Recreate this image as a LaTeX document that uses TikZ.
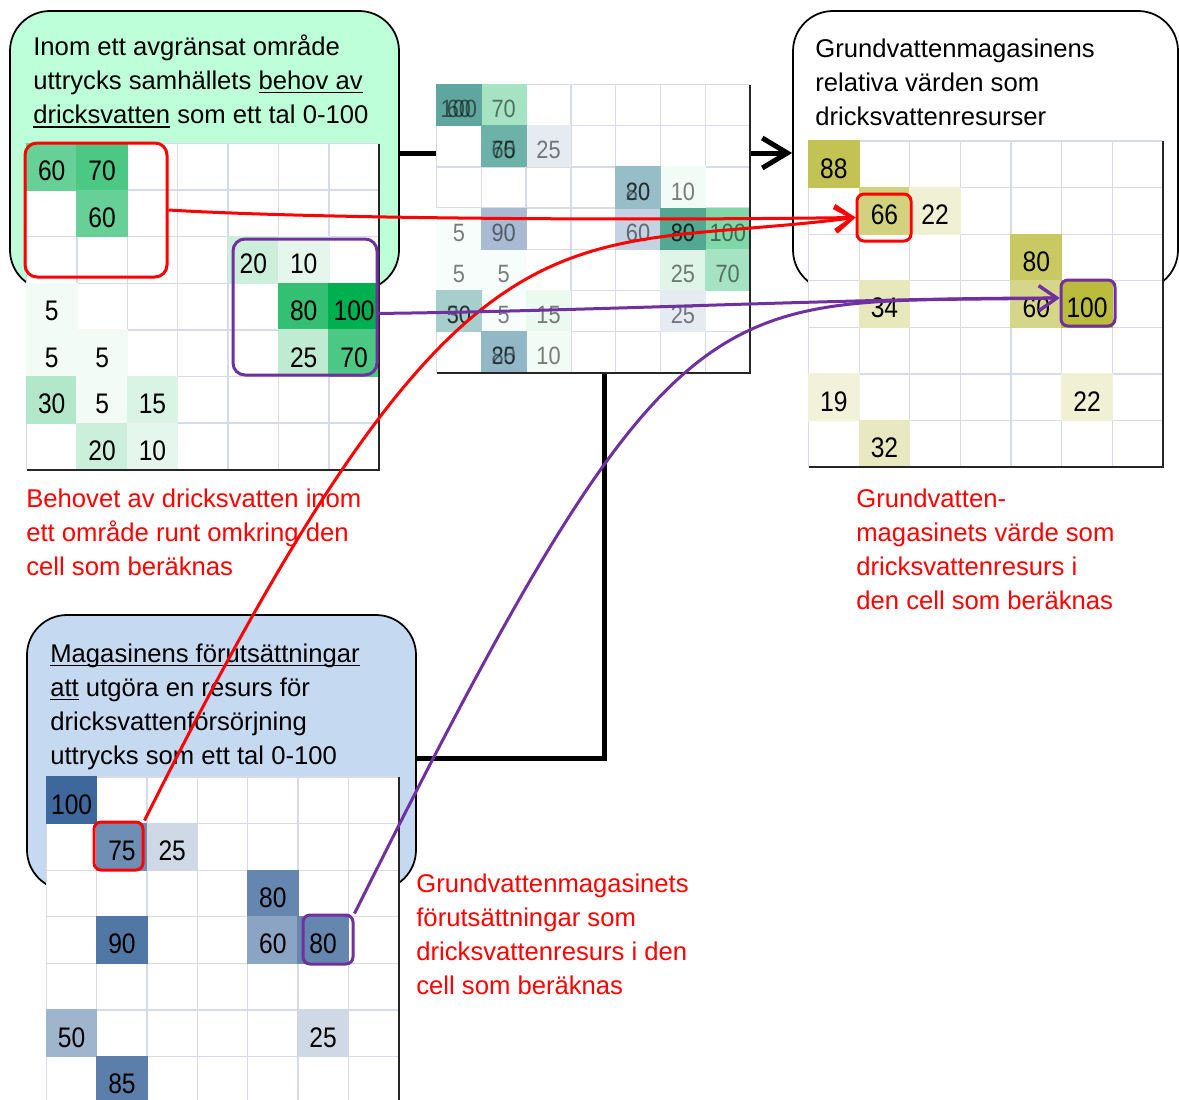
\documentclass[tikz,border=0pt]{standalone}
\usepackage{fontspec}
\setmainfont{Liberation Sans}
\usepackage{graphicx}
\usetikzlibrary{arrows.meta,fit}

\definecolor{gbase}{RGB}{0,176,80}
\definecolor{bbase}{RGB}{62,104,155}
\definecolor{obase}{RGB}{187,187,60}
\definecolor{gridc}{RGB}{214,218,234}
\definecolor{mint}{RGB}{188,255,217}
\definecolor{paleblue}{RGB}{197,217,241}
\definecolor{vio}{RGB}{112,48,160}
% blended cells of the combined grid
\definecolor{ovA}{RGB}{95,166,158}
\definecolor{ovB}{RGB}{108,178,168}
\definecolor{ovC}{RGB}{150,189,200}
\definecolor{ovD}{RGB}{82,168,144}
\definecolor{ovE}{RGB}{165,206,204}
\definecolor{ovF}{RGB}{146,184,200}

% underline drawn just below the baseline
\newsavebox\undlbox
\newcommand\undl[1]{\leavevmode\sbox\undlbox{#1}\rlap{\rule[-2.3pt]{\wd\undlbox}{0.85pt}}\usebox\undlbox}
\newcommand\cellval[1]{\scalebox{1}[1.15]{#1}}
\newcommand\boxtext{\fontsize{14.6}{19.5}\selectfont}

% white sheet with 7 columns: #1 column width, #2 row height, #3 rows
\newcommand\gridsheet[3]{%
  \fill[white] (0,0) rectangle ({7*#1},{#3*#2});
  \foreach \k in {0,...,7} \draw[gridline] ({\k*#1},0) -- ({\k*#1},{#3*#2});
  \foreach \k in {0,...,#3} \draw[gridline] (0,{\k*#2}) -- ({7*#1},{\k*#2});
}
\newcommand\gridborder[3]{%
  \draw[gridedge] ({7*#1},0) -- ({7*#1},{#3*#2}) -- (0,{#3*#2});
}

\tikzset{
  gridline/.style={draw=gridc, line width=0.025cm},
  gridedge/.style={draw=black!85, line width=0.04cm},
  cellnum/.style={anchor=base, inner sep=0pt, font=\fontsize{14}{14}\selectfont},
  midnum/.style={anchor=base, inner sep=0pt, font=\fontsize{12.4}{12.4}\selectfont, text opacity=0.5},
  panel/.style={draw=black, line width=0.035cm, rounded corners=0.8cm, inner sep=0pt},
  hlred/.style={draw=red, line width=0.06cm, inner sep=0pt},
  hlvio/.style={draw=vio, line width=0.06cm, inner sep=0pt},
  redlink/.style={draw=red, line width=0.06cm, -{Straight Barb[length=0.36cm,width=0.5cm]}},
  violink/.style={draw=vio, line width=0.06cm, -{Straight Barb[length=0.36cm,width=0.5cm]}},
  heavy/.style={draw=black, line width=0.1cm},
  paneltext/.style={anchor=base west, inner sep=0pt},
  redcaption/.style={anchor=base west, inner sep=0pt, text=red},
}

\begin{document}
\begin{tikzpicture}[x=0.02cm, y=-0.02cm]
\useasboundingbox (0,0) rectangle (1179,1099);

% panels
\node[panel, fill=mint, fit={(10,11) (399,290)}] (boxG) {};
\node[panel, fill=white, fit={(793,11) (1178,290)}] (boxR) {};
\node[panel, fill=paleblue, fit={(27,615) (416,890)}] (boxB) {};

% combined grid frame and the thick links to it
\node[inner sep=0pt, fit={(436.5,84.5) (750,373)}] (midgrid) {};
\coordinate (jL) at (0,153);
\coordinate (jB) at (604,758);
\draw[heavy] (boxG.east |- jL) -- (midgrid.west |- jL);
\draw[heavy, -{Straight Barb[length=0.5cm,width=0.6cm]}] (midgrid.east |- jL) -- (boxR.west |- jL);
\draw[heavy] (midgrid.south -| jB) -- (jB) -- (boxB.east |- jB);

% need grid (green)
\begin{scope}[shift={(26.5,143.5)}]
  \def\cw{50.4}\def\ch{46.6}
  \gridsheet{\cw}{\ch}{7}
  \foreach \r/\c/\v in {0/0/60,0/1/70,1/1/60,2/4/20,2/5/10,3/0/5,3/5/80,3/6/100,4/0/5,4/1/5,4/5/25,4/6/70,5/0/30,5/1/5,5/2/15,6/1/20,6/2/10} {
    \fill[gbase!\v!white] ({\c*\cw-0.6},{\r*\ch-0.6}) rectangle ({(\c+1)*\cw+0.6},{(\r+1)*\ch+0.6});
    \node[cellnum] (gL-\r-\c) at ({(\c+0.5)*\cw},{(\r+1)*\ch-9.5}) {\cellval{\v}};
  }
  \gridborder{\cw}{\ch}{7}
\end{scope}

% combined grid
\begin{scope}[shift={(436.5,84.5)}]
  \def\cw{44.8}\def\ch{41.2}
  \gridsheet{\cw}{\ch}{7}
  \foreach \r/\c/\col in {0/1/gbase!35!white,2/5/gbase!5!white,3/0/gbase!3!white,3/6/gbase!50!white,4/0/gbase!3!white,4/1/gbase!3!white,4/5/gbase!13!white,4/6/gbase!35!white,5/1/gbase!3!white,5/2/gbase!8!white,6/2/gbase!5!white,1/2/bbase!13!white,3/1/bbase!45!white,3/4/bbase!30!white,5/5/bbase!13!white,0/0/ovA,1/1/ovB,2/4/ovC,3/5/ovD,5/0/ovE,6/1/ovF} {
    \fill[\col] ({\c*\cw-0.5},{\r*\ch-0.5}) rectangle ({(\c+1)*\cw+0.5},{(\r+1)*\ch+0.5});
  }
  \foreach \r/\c/\v in {0/0/60,0/1/70,1/1/60,2/4/20,2/5/10,3/0/5,3/5/80,3/6/100,4/0/5,4/1/5,4/5/25,4/6/70,5/0/30,5/1/5,5/2/15,6/1/20,6/2/10}
    \node[midnum] (gM-\r-\c-a) at ({(\c+0.5)*\cw},{(\r+1)*\ch-8}) {\cellval{\v}};
  \foreach \r/\c/\v in {0/0/100,1/1/75,1/2/25,2/4/80,3/1/90,3/4/60,3/5/80,5/0/50,5/5/25,6/1/85}
    \node[midnum] (gM-\r-\c-b) at ({(\c+0.5)*\cw},{(\r+1)*\ch-8}) {\cellval{\v}};
  \gridborder{\cw}{\ch}{7}
\end{scope}

% resource value grid (olive)
\begin{scope}[shift={(808.5,141)}]
  \def\cw{50.64}\def\ch{46.6}
  \gridsheet{\cw}{\ch}{7}
  \foreach \r/\c/\v in {0/0/88,1/1/66,1/2/22,2/4/80,3/1/34,3/4/60,3/5/100,5/0/19,5/5/22,6/1/32} {
    \fill[obase!\v!white] ({\c*\cw-0.6},{\r*\ch-0.6}) rectangle ({(\c+1)*\cw+0.6},{(\r+1)*\ch+0.6});
    \node[cellnum] (gR-\r-\c) at ({(\c+0.5)*\cw},{(\r+1)*\ch-9.5}) {\cellval{\v}};
  }
  \gridborder{\cw}{\ch}{7}
\end{scope}

% aquifer grid (blue)
\begin{scope}[shift={(46.5,777)}]
  \def\cw{50.3}\def\ch{46.6}
  \gridsheet{\cw}{\ch}{7}
  \foreach \r/\c/\v in {0/0/100,1/1/75,1/2/25,2/4/80,3/1/90,3/4/60,3/5/80,5/0/50,5/5/25,6/1/85} {
    \fill[bbase!\v!white] ({\c*\cw-0.6},{\r*\ch-0.6}) rectangle ({(\c+1)*\cw+0.6},{(\r+1)*\ch+0.6});
    \node[cellnum] (gB-\r-\c) at ({(\c+0.5)*\cw},{(\r+1)*\ch-9.5}) {\cellval{\v}};
  }
  \gridborder{\cw}{\ch}{7}
\end{scope}

% panel texts
\node[paneltext] (tG) at (33,55) {\parbox[t]{9cm}{\boxtext\raggedright
  Inom ett avgränsat område\\uttrycks samhällets \undl{behov av}\\\undl{dricksvatten} som ett tal 0-100}};
\node[paneltext] (tR) at (815,57) {\parbox[t]{9cm}{\boxtext\raggedright
  Grundvattenmagasinens\\relativa värden som\\dricksvattenresurser}};
\node[paneltext] (tB) at (50,662) {\parbox[t]{9cm}{\boxtext\raggedright
  \undl{Magasinens förutsättningar}\\\undl{att} utgöra en resurs för\\dricksvattenförsörjning\\uttrycks som ett tal 0-100}};

% red captions
\node[redcaption] (cL) at (26,507) {\parbox[t]{9cm}{\boxtext\raggedright
  Behovet av dricksvatten inom\\ett område runt omkring den\\cell som beräknas}};
\node[redcaption] (cR) at (856,507) {\parbox[t]{9cm}{\boxtext\raggedright
  Grundvatten-\\magasinets värde som\\dricksvattenresurs i\\den cell som beräknas}};
\node[redcaption] (cB) at (416,892) {\parbox[t]{9cm}{\boxtext\raggedright
  Grundvattenmagasinets\\förutsättningar som\\dricksvattenresurs i den\\cell som beräknas}};

% highlighted cells
\node[hlred, rounded corners=0.24cm, fit={(25,143) (167,277)}] (hlA) {};
\node[hlvio, rounded corners=0.24cm, fit={(233,239) (377,375)}] (hlP) {};
\node[hlred, rounded corners=0.14cm, fit={(857,194) (911,241)}] (hlB) {};
\node[hlvio, rounded corners=0.14cm, fit={(1061,280) (1115,326)}] (hlE) {};
\node[hlred, rounded corners=0.14cm, fit={(94,822) (143,870)}] (hlC) {};
\node[hlvio, rounded corners=0.14cm, fit={(303,915) (353,964)}] (hlD) {};

% links from the inputs to the result cells
\draw[redlink] (hlA.east) .. controls (300,218) and (600,221) .. (hlB.west);
\draw[redlink] (hlC.north east) .. controls (470,170) and (555,256) .. (hlB.west);
\draw[violink] (hlP.-5) .. controls (600,311) and (850,298) .. (hlE.170);
\draw[violink] (hlD.north east) .. controls (683,255) and (710,305) .. (hlE.170);

\end{tikzpicture}
\end{document}
